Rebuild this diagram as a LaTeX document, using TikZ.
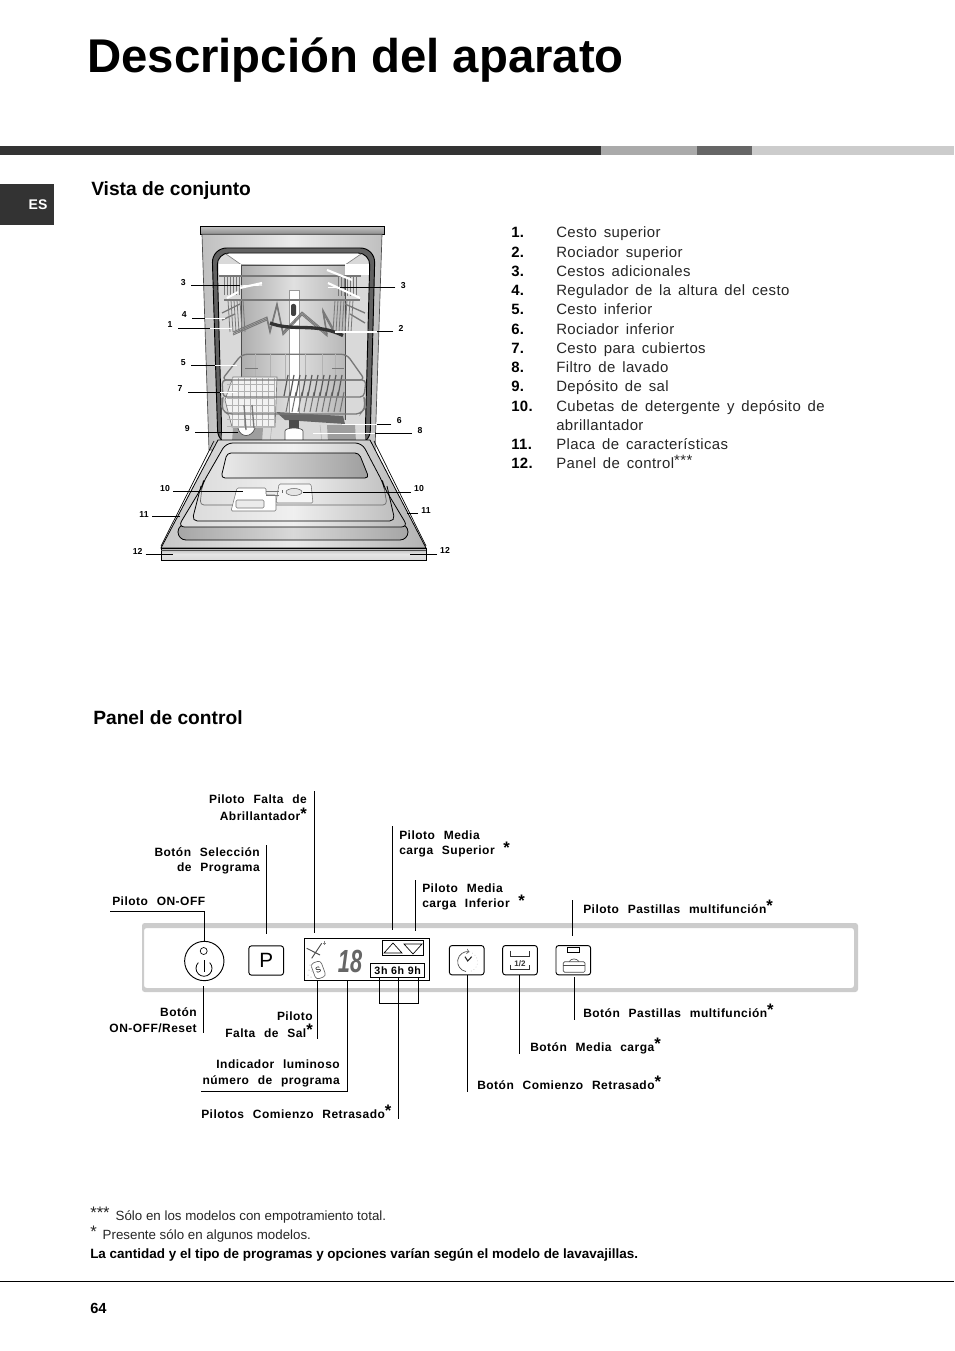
\documentclass[tikz,border=0pt]{standalone}
\usepackage{fontspec}
\setmainfont{Liberation Sans}
\newfontfamily\lblfam[LetterSpace=4,WordSpace=2.3]{Liberation Sans}
\newfontfamily\itemfam[LetterSpace=2.8,WordSpace=1.5]{Liberation Sans}
\newfontfamily\delayfam[LetterSpace=6]{Liberation Sans}
\usetikzlibrary{positioning, calc}
\definecolor{bandblack}{RGB}{51,51,51}
\definecolor{bandgrey}{RGB}{170,170,170}
\definecolor{bandmid}{RGB}{102,102,102}
\definecolor{bandlight}{RGB}{204,204,204}
\definecolor{wiregrey}{RGB}{120,120,120}
\newcommand{\starmark}{\raisebox{0.12em}{\fontsize{12.5}{12}\selectfont *}}

\begin{document}
\begin{tikzpicture}[x=0.75pt, y=-0.75pt,
  titletxt/.style={anchor=base west, inner sep=0pt, font=\bfseries\fontsize{35.5}{36}\selectfont},
  headtxt/.style={anchor=base west, inner sep=0pt, font=\bfseries\fontsize{14.4}{16}\selectfont},
  itemnum/.style={anchor=base west, inner sep=0pt, font=\itemfam\bfseries\fontsize{11.2}{12}\selectfont},
  itemtxt/.style={anchor=base west, inner sep=0pt, text=black!85, font=\itemfam\fontsize{11.2}{12}\selectfont},
  numlbl/.style={inner sep=1pt, font=\bfseries\fontsize{6.5}{7}\selectfont},
  ctrllbl/.style={inner sep=0pt, font=\lblfam\bfseries\fontsize{9}{11.7}\selectfont},
  noteline/.style={anchor=base west, inner sep=0pt, text=black!85, font=\fontsize{10}{11}\selectfont},
  leader/.style={draw, line width=0.75pt},
  leaderwh/.style={draw=white, line width=0.9pt},
  panelbtn/.style={draw, rounded corners=2pt, line width=0.7pt, fill=white, minimum width=26pt, minimum height=22pt, inner sep=0pt},
  wire/.style={draw=wiregrey, line width=0.6pt},
  wirelt/.style={draw=black!30, line width=0.5pt},
  outline/.style={draw, line width=0.6pt}
]
  \useasboundingbox (0,0) rectangle (954,1351);
  \fill[white] (0,0) rectangle (954,1351);

  % page furniture
  \node[titletxt] (title) at (87,73) {Descripción del aparato};
  \fill[bandblack] (0,146) rectangle (601,155);
  \fill[bandgrey] (601,146) rectangle (697,155);
  \fill[bandmid] (697,146) rectangle (752,155);
  \fill[bandlight] (752,146) rectangle (954,155);
  \fill[bandblack] (0,184) rectangle (54,225);
  \node[text=white, inner sep=0pt, font=\bfseries\fontsize{10.5}{12}\selectfont] (lang) at (38,204.5) {ES};
  \node[headtxt] (headview) at (91,196) {Vista de conjunto};
  \node[headtxt] (headpanel) at (93,724) {Panel de control};

  % parts list
  \foreach \n/\t/\y in {1/{Cesto superior}/237.7, 2/{Rociador superior}/257.7, 3/{Cestos adicionales}/276.7,
      4/{Regulador de la altura del cesto}/295.7, 5/{Cesto inferior}/314.7, 6/{Rociador inferior}/334.7,
      7/{Cesto para cubiertos}/353.7, 8/{Filtro de lavado}/372.7, 9/{Depósito de sal}/391.7,
      10/{Cubetas de detergente y depósito de}/411.7, 11/{Placa de características}/449.7}
  {
    \node[itemnum] (num\n) at (511,\y) {\n.};
    \node[itemtxt] (item\n) at (556,\y) {\t};
  }
  \node[itemtxt] (item10b) at (556,430.7) {abrillantador};
  \node[itemnum] (num12) at (511,468.7) {12.};
  \node[itemtxt] (item12) at (556,468.7) {Panel de control\raisebox{0.2em}{***}};

  % dishwasher: cabinet
  \path[outline, top color=black!25, bottom color=black!45] (200.3,226.7) rectangle (384.3,234.3);
  \path[draw=black!70, line width=0.5pt, left color=black!25, right color=black!25, middle color=black!8]
    (202,234.3) -- (382,234.3) -- (375,450) -- (209,450) -- cycle;
  \path[fill=black!62, draw=black, line width=0.7pt, rounded corners=11pt]
    (218,445) -- (212,248) -- (375,248) -- (370,445) -- cycle;
  \path[fill=black!15, draw=black, line width=0.7pt, rounded corners=9pt]
    (222,445) -- (217,253) -- (370,253) -- (365,445) -- cycle;
  % dishwasher: inner walls
  \path[fill=white] (226,254) -- (361,254) -- (345,265) -- (241.7,265) -- cycle;
  \path[left color=black!32, right color=black!28, middle color=black!12] (241.7,265) rectangle (345,420);
  \draw[black!70, line width=0.5pt] (241.7,420) -- (241.7,265) -- (345,265) -- (345,420);
  \draw[black!50, line width=0.5pt] (226,254) -- (241.7,265) (361,254) -- (345,265);
  \fill[white] (218.5,264) rectangle (241.3,275);
  \fill[white] (345.4,264) rectangle (369,275);
  \path[fill=white, draw=black!40, line width=0.3pt] (289.3,290) rectangle (298.7,420);
  \path[fill=black!75, rounded corners=1.5pt] (291,304) rectangle (296,316);

  % dishwasher: upper rack
  \draw[wire, line width=1.2pt] (219,276) -- (361,276);
  \draw[wire, line width=1pt] (224,300) -- (360,300);
  \foreach \x in {224,227,...,240} {
    \draw[wire] (\x,277) -- (\x,295);
    \draw[wire] (\x+4,300) -- (\x+6,332);
  }
  \foreach \x in {338,341,...,356} {
    \draw[wire] (\x,277) -- (\x,296);
    \draw[wire] (\x-3,300) -- (\x-5,332);
  }
  \draw[wire, line width=1pt] (222,313) -- (240,304) (222,320) -- (235,314) (365,313) -- (345,304) (365,323) -- (350,314);
  \foreach \d in {0,1.5,3} {
    \draw[wire, line width=0.7pt] (233,332+\d) -- (267,317+\d) -- (270,330+\d) -- (277,303+\d) -- (283,332+\d)
      -- (302,312+\d) -- (327,333+\d) -- (323,310+\d) -- (333,328+\d);
  }
  \draw[black!80, line width=2.5pt] (270,323) .. controls (293,332) and (315,322) .. (343,335.5);

  % dishwasher: white spray marks of the upper rack
  \draw[white, line width=1.6pt] (240,288) -- (262,283) (227,298) -- (238,292)
    (327,270) -- (352,280) (328,283) -- (360,298);

  % dishwasher: lower rack
  \draw[wire, line width=1pt, rounded corners=4pt] (241.7,354.3) -- (346.7,354.3) -- (365,380) -- (221.7,380) -- cycle;
  \foreach \x in {255,270,285,305,322,335}
    \draw[wirelt] (\x,354) -- (\x,380);
  \draw[wire, line width=0.7pt] (245,368) -- (258,368) (332,368) -- (344,368);

  % dishwasher: floor, patches and arm
  \fill[black!15] (222,420) rectangle (365,444);
  \fill[black!38] (233,428) -- (263,428) -- (262,442) -- (232,442) -- cycle;
  \fill[black!38] (327,425) -- (355,425) -- (356,442) -- (328,442) -- cycle;
  \draw[black!30, line width=0.4pt] (272,425) -- (270,442) (320,425) -- (322,442);
  \fill[black!60] (276,412) -- (343,416) -- (345,424) -- (285,420) -- cycle;
  \path[fill=black!70] (289,420) rectangle (299,430);
  \foreach \x in {288,294,...,346} {
    \draw[black!65, line width=0.9pt] (\x,375) -- (\x-4,396);
    \draw[black!55, line width=0.8pt] (\x+2,392) -- (\x-2,412);
  }
  \path[fill=white, draw=black!70, line width=0.5pt] (285,431) arc[start angle=180, end angle=360, x radius=9, y radius=3]
     -- (303,441) -- (285,441) -- cycle;
  \path[fill=white, draw=black!70, line width=0.5pt] (238,428) .. controls (240,438) and (252,438) .. (255,428);

  % dishwasher: cutlery basket
  \path[fill=black!5, draw=wiregrey, line width=0.5pt] (233,377) -- (277,377) -- (275,427) -- (232,427) -- (225,400) -- cycle;
  \foreach \x in {232,238,...,274}
    \draw[wirelt] (\x,378) -- (\x,426);
  \foreach \y in {384,391,...,426}
    \draw[wirelt] (227,\y) -- (275,\y);
  \draw[wire, line width=1pt, rounded corners=3pt] (222,380) -- (366,380) -- (364,397) -- (223,397) -- cycle;
  \draw[wire, line width=1pt, rounded corners=3pt] (223,397) -- (222,410) -- (228,414) -- (360,414) -- (365,408) -- (364,397);
  \draw[wire, line width=1pt] (244,405) -- (246,430) (252,405) -- (254,428);

  % dishwasher: door
  \path[outline, left color=black!22, right color=black!30, middle color=black!8]
    (218,440) -- (370,440) -- (426,548) -- (161,548) -- cycle;
  \draw[black, line width=0.5pt] (214,441) -- (161,546) (374,441) -- (426,546);
  \path[outline, left color=black!35, right color=black!35, middle color=black!15, rounded corners=6pt] (178,524) -- (178,540) -- (408,540) -- (408,524) -- cycle;
  \path[outline, left color=black!15, right color=black!28, middle color=black!6, rounded corners=5pt]
    (226,443) -- (362,443) -- (383,483) -- (384,487) -- (408,527) -- (178,527) -- (202,487) -- (203,483) -- cycle;
  \path[outline, rounded corners=4pt] (201,486) -- (192,521) -- (395,521) -- (387,486);
  \path[outline, left color=black!8, right color=black!38, rounded corners=3pt]
    (227,453) -- (359,453) -- (369,478) -- (221,478) -- cycle;
  \path[draw=black!60, line width=0.5pt, rounded corners=3pt] (202,487) -- (200,505) -- (387,505) -- (384,487);
  % dishwasher: dispensers
  \path[draw=black!55, line width=0.4pt, fill=white, rounded corners=1pt]
    (237,488) -- (266,488) -- (266,495) -- (276,495) -- (276,511) -- (231,511) -- cycle;
  \path[draw=black!55, line width=0.4pt, fill=black!4, rounded corners=1pt]
    (279,484) -- (311,484) -- (313,503) -- (276,503) -- cycle;
  \path[draw=black!60, line width=0.4pt, fill=black!10] (286,492) arc[start angle=180, end angle=540, x radius=8, y radius=3.5];
  \draw[black!60, line width=0.4pt] (282,490) -- (282,493);
  \path[draw=black!55, line width=0.4pt, fill=black!8, rounded corners=1pt] (236,500) rectangle (264,508);
  \draw[black!55, line width=0.4pt] (266,491) -- (279,491) (266,495) -- (279,495);

  % dishwasher: plinth
  \path[outline, top color=black!30, bottom color=black!15, middle color=black!10] (161,548) rectangle (426,560);
  \draw[black!70, line width=0.8pt] (161,550.5) -- (426,550.5);

  % numbered callouts of the dishwasher
  \foreach \nm/\txt/\lx/\ly/\bx/\by/\wx/\wy in {
      a/3/183.3/282.7/240/286/262/285,
      b/3/403.3/285.3/340/287.7/328/287.7,
      c/4/184.3/315/205/318.3/225/318.3,
      d/1/170/325/210/328.3/231.7/328.3,
      e/2/401/328.3/376.7/332/335/332,
      f/5/183.3/362.3/215/365.3/236.7/365.3,
      g/7/180/389/220/392.3/236.7/392.3,
      h/9/187.3/428.3/238.3/432.3/238.3/432.3,
      i/6/399.3/421/376.7/424.3/341.7/424.3,
      j/8/420/430.7/375/433.3/313.3/433.3,
      k/10/165/488.3/243.3/491.3/243.3/491.3,
      m/10/419/488.3/303.3/492.3/303.3/492.3,
      n/11/144/514.3/180/516.7/180/516.7,
      o/11/426/510.7/406.7/513.3/406.7/513.3,
      p/12/137.7/551/173.3/554.3/173.3/554.3,
      q/12/445/550.7/410/554.3/410/554.3}
  {
    \node[numlbl] (callout\nm) at (\lx,\ly) {\txt};
    \coordinate (black\nm) at (\bx,\by);
    \coordinate (white\nm) at (\wx,\wy);
    \draw[leader] ($(callout\nm.center |- black\nm)!6pt!(black\nm)$) -- (black\nm);
    \draw[leaderwh] (black\nm) -- (white\nm);
  }

  % control panel frame
  \path[fill=bandlight, even odd rule, rounded corners=2pt] (142,923) rectangle (858,992)
     (144,928) rectangle (854,988);

  % on-off button
  \node[draw, circle, line width=0.7pt, minimum size=29.5pt, inner sep=0pt, fill=white] (onoffbtn) at (204.3,961) {};
  \draw[line width=0.5pt] (203.7,951) circle (3.5);
  \draw[line width=0.6pt] (209.66,962.6) arc[start angle=-45, end angle=225, radius=8];
  \draw[line width=0.6pt] (204,960) -- (204,972);

  \node[panelbtn, font=\fontsize{15.5}{16}\selectfont] (progbtn) at (266.2,960.5) {P};

  % display
  \node[draw, line width=0.8pt, minimum width=94pt, minimum height=32pt, inner sep=0pt] (display) at (367,959.5) {};
  \draw[black!70, line width=0.7pt] (306.7,948.3) -- (320,955) (311.7,958.3) -- (321.7,943.3);
  \draw[black!50, line width=0.3pt] (322.5,942.7) -- (326,942.7) (324.3,941) -- (324.3,944.5);
  \node[draw=black!60, line width=0.5pt, rotate=20, rounded corners=2.5pt, minimum width=8pt, minimum height=12.5pt, inner sep=0pt,
    font=\fontsize{6}{6}\selectfont] (saltsym) at (318.3,970) {S};
  \foreach \px/\py in {308/975, 309/970, 310/965, 311/977, 312/971}
    \fill[black!45] (\px,\py) circle (0.5);
  \node[inner sep=0pt, text=black!60, font=\bfseries\itshape\fontsize{24}{24}\selectfont] (digits) at (350,961.5) {\scalebox{0.68}[1]{18}};
  \node[draw, line width=0.8pt, minimum width=31pt, minimum height=11.5pt, inner sep=0pt] (arrowbox) at (403,948) {};
  \draw[line width=0.5pt] (384,953) -- (393,943) -- (402,953) -- cycle;
  \draw[line width=0.5pt] (404,944) -- (422,944) -- (413,954) -- cycle;
  \node[draw, line width=0.8pt, minimum width=40.5pt, minimum height=10.5pt, inner sep=0pt, font=\delayfam\bfseries\fontsize{8}{9}\selectfont] (delaybox) at (397.7,970.3) {3h 6h 9h};

  % round buttons to the right
  \node[panelbtn] (clockbtn) at (466.7,960.2) {};
  \draw[black!70, line width=0.5pt, -{>[scale=0.6]}] (465.9,971.5) arc[start angle=100, end angle=280, radius=10] ;
  \draw[black!35, line width=0.4pt, dotted] (469.4,951.9) arc[start angle=-80, end angle=80, radius=10];
  \draw[black!85, line width=0.8pt] (465,956.7) -- (467.7,961) -- (471.7,956.7);
  \node[panelbtn] (halfbtn) at (520,960.2) {};
  \draw[black!80, line width=0.6pt] (510.5,950.5) -- (510.5,956.3) -- (529.7,956.3) -- (529.7,950.5);
  \draw[black!80, line width=0.6pt] (510.5,964.5) -- (510.5,969.3) -- (529.7,969.3) -- (529.7,964.5);
  \node[inner sep=0pt, font=\bfseries\fontsize{6}{7}\selectfont, text=black!80] (halflbl) at (520,964) {1/2};
  \node[panelbtn] (tabbtn) at (573.3,960.2) {};
  \draw[line width=0.5pt] (567.3,947.3) rectangle (579.3,952);
  \draw[black!70, line width=0.5pt, rounded corners=1pt] (563.3,961.7) rectangle (585,972.3);
  \draw[black!70, line width=0.5pt] (563.3,965.5) -- (585,965.5);
  \draw[black!70, line width=0.5pt] (569,961.7) .. controls (571,958) and (577,958) .. (579,961.7);

  % labels of the control panel
  \node[ctrllbl, anchor=east, align=right] (lblabr) at (307,808) {Piloto Falta de\\[0.8pt]Abrillantador\starmark};
  \node[ctrllbl, anchor=east, align=right] (lblprog) at (260,861) {Botón Selección\\de Programa};
  \node[ctrllbl, anchor=west] (lblpilot) at (112,901) {Piloto ON-OFF};
  \node[ctrllbl, anchor=west, align=left] (lblsup) at (399,844) {Piloto Media\\carga Superior \starmark};
  \node[ctrllbl, anchor=west, align=left] (lblinf) at (422,897) {Piloto Media\\carga Inferior \starmark};
  \node[ctrllbl, anchor=west] (lbltabp) at (583,907) {Piloto Pastillas multifunción\starmark};
  \node[ctrllbl, anchor=east, align=right] (lblreset) at (197,1020.5) {Botón\\ON-OFF/Reset};
  \node[ctrllbl, anchor=east, align=right] (lblsal) at (313,1024.5) {Piloto\\[1pt]Falta de Sal\starmark};
  \node[ctrllbl, anchor=east, align=right] (lblprg) at (340,1073.5) {Indicador luminoso\\número de programa};
  \node[ctrllbl, anchor=west] (lblpcr) at (201,1112) {Pilotos Comienzo Retrasado\starmark};
  \node[ctrllbl, anchor=west] (lblbcr) at (477,1083) {Botón Comienzo Retrasado\starmark};
  \node[ctrllbl, anchor=west] (lblmed) at (530,1046) {Botón Media carga\starmark};
  \node[ctrllbl, anchor=west] (lbltab) at (583,1011) {Botón Pastillas multifunción\starmark};

  % leader lines of the control panel
  \foreach \nm/\x/\ya/\yb in {abr/314.5/791/933, prog/266.5/845/934, sup/392.5/826/930, inf/415.5/880/931,
      tabp/572.5/900/936, reset/203/986/1033, sal/317.5/981/1039, clock/467.5/975/1092, half/519.5/975/1054,
      tab/574.5/977/1020, delay/398.3/1003/1119}
  {
    \coordinate (top\nm) at (\x,\ya);
    \coordinate (end\nm) at (\x,\yb);
    \draw[leader] (top\nm) -- (end\nm);
  }
  \coordinate (pilotstart) at (110,911);
  \coordinate (pilotknee) at (204.3,911);
  \draw[leader] (pilotstart) -- (pilotknee) -- (onoffbtn);
  \coordinate (prgknee) at (347.5,1091);
  \coordinate (prgstart) at (201,1091);
  \draw[leader] (display.south -| prgknee) -- (prgknee) -- (prgstart);
  \coordinate (delaya) at (379.3,1003);
  \coordinate (delayb) at (418.3,1003);
  \coordinate (delayc) at (398.3,1003);
  \draw[leader] (delaybox.south -| delaya) -- (delaya) -- (delayb) -- (delaybox.south -| delayb);
  \draw[leader] (delaybox.south -| delayc) -- (delayc);

  % footnotes
  \node[noteline] (notea) at (90,1220) {\raisebox{0.1em}{\fontsize{12.5}{12}\selectfont ***}\, Sólo en los modelos con empotramiento total.};
  \node[noteline] (noteb) at (90,1239) {\raisebox{0.1em}{\fontsize{12.5}{12}\selectfont *}\, Presente sólo en algunos modelos.};
  \node[noteline, text=black, font=\bfseries\fontsize{10.1}{11}\selectfont] (notec) at (90,1258) {La cantidad y el tipo de programas y opciones varían según el modelo de lavavajillas.};
  \draw[line width=0.6pt] (0,1281) -- (954,1281);
  \node[noteline, text=black, font=\bfseries\fontsize{11}{12}\selectfont] (pagenum) at (90,1313) {64};
\end{tikzpicture}
\end{document}
